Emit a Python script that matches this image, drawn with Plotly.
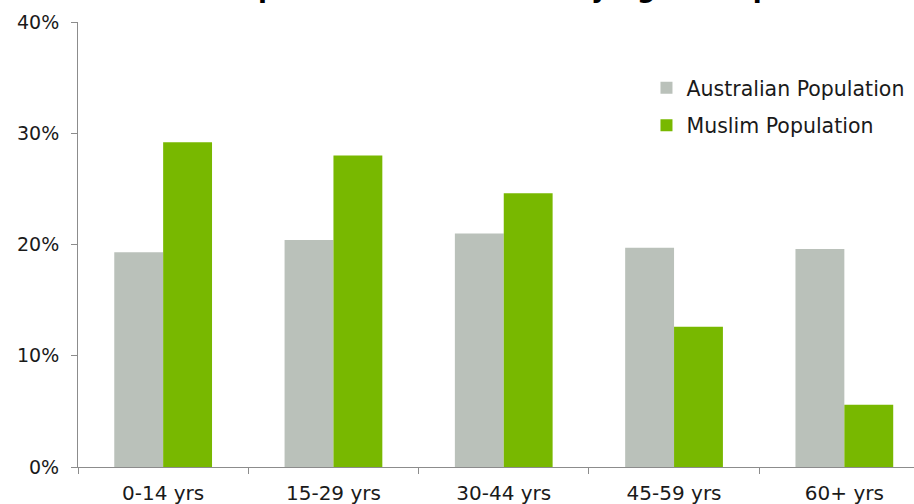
import plotly.graph_objects as go

# Share of each population falling in each age band (%)
age_groups = ["0-14 yrs", "15-29 yrs", "30-44 yrs", "45-59 yrs", "60+ yrs"]
australian_pct = [19.3, 20.4, 21.0, 19.7, 19.6]
muslim_pct = [29.2, 28.0, 24.6, 12.6, 5.6]
y_ticks = [0, 10, 20, 30, 40]
y_tick_labels = ["0%", "10%", "20%", "30%", "40%"]
chart_title = "Population Distribution by Age Group"

GREY = "#BAC1BA"
GREEN = "#78B800"
FONT = "DejaVu Sans, Verdana, sans-serif"
TEXT = "#1a1a1a"
AXIS = "#8c8c8c"

fig = go.Figure()
fig.add_trace(go.Bar(x=age_groups, y=australian_pct, name="Australian Population",
                     marker=dict(color=GREY, line=dict(width=0)), legendgroup="a"))
fig.add_trace(go.Bar(x=age_groups, y=muslim_pct, name="Muslim Population",
                     marker=dict(color=GREEN, line=dict(width=0)), legendgroup="m"))

fig.update_layout(
    width=914, height=504,
    margin=dict(l=78, r=0, t=22, b=37),
    paper_bgcolor="white", plot_bgcolor="white",
    barmode="group", bargap=0.426, bargroupgap=0,
    font=dict(family=FONT, size=19, color=TEXT),
    showlegend=True,
    legend=dict(x=0.68, y=0.897, xanchor="left", yanchor="top",
                bgcolor="rgba(0,0,0,0)", font=dict(size=20.5, color=TEXT),
                traceorder="grouped", tracegroupgap=8),
    xaxis=dict(type="category", range=[-0.5, 4.409], showgrid=False,
               showline=True, linecolor=AXIS, linewidth=1,
               ticks="outside", tickson="boundaries", ticklen=6, tickcolor=AXIS,
               ticklabelstandoff=8,
               tickfont=dict(size=20, color=TEXT), fixedrange=True),
    yaxis=dict(range=[0, 40], tickvals=y_ticks, ticktext=y_tick_labels,
               showgrid=False, zeroline=False, showline=True, linecolor=AXIS,
               linewidth=1, ticks="outside", ticklen=6, tickcolor=AXIS,
               ticklabelstandoff=8,
               tickfont=dict(size=19, color=TEXT), fixedrange=True),
    annotations=[dict(text="<b>" + chart_title + "</b>", xref="paper", yref="paper",
                      x=0.5, y=1 + 17 / 445, xanchor="center", yanchor="bottom",
                      showarrow=False, font=dict(size=26, color="#000000", family=FONT))],
)

fig.write_html("out.html")
